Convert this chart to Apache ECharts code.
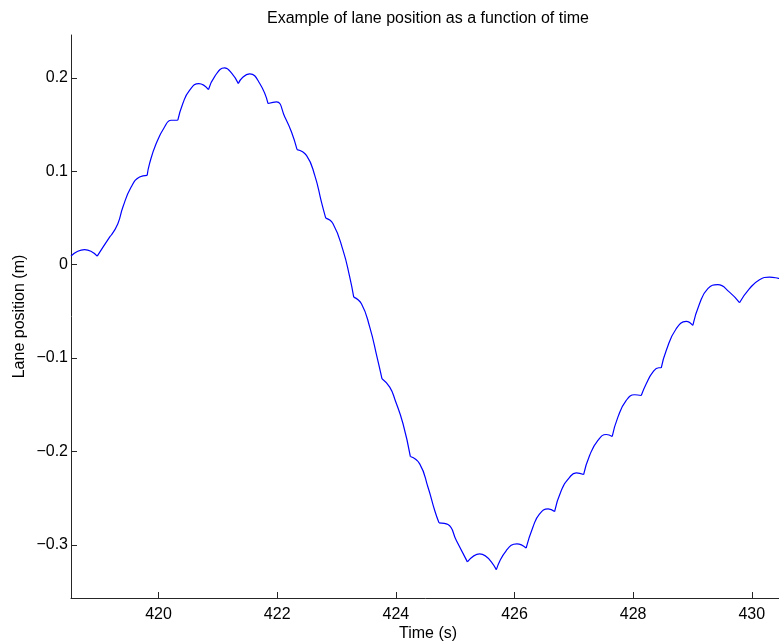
<!DOCTYPE html>
<html>
<head>
<meta charset="utf-8">
<script src="https://cdn.jsdelivr.net/npm/echarts@6/dist/echarts.min.js"></script>
<style>
  html, body { margin: 0; padding: 0; background: #ffffff; }
  #chart { width: 779px; height: 641px; }
</style>
</head>
<body>
<div id="chart"></div>
<script>
// Sampled lane position (m) against time (s)
const timeSec = [
  418.523, 418.753, 418.966, 419.175, 419.201, 419.314, 419.399, 419.538, 419.680, 419.808,
  419.848, 419.960, 420.101, 420.212, 420.325, 420.409, 420.522, 420.679, 420.842, 420.948,
  421.112, 421.235, 421.344, 421.420, 421.538, 421.706, 421.846, 421.988, 422.128, 422.241,
  422.335, 422.493, 422.633, 422.746, 422.818, 422.941, 423.110, 423.223, 423.290, 423.420,
  423.560, 423.683, 423.767, 423.897, 423.990, 424.121, 424.245, 424.402, 424.542, 424.655,
  424.727, 424.879, 425.020, 425.206, 425.413, 425.694, 425.862, 426.041, 426.196, 426.310,
  426.423, 426.567, 426.676, 426.789, 426.929, 427.042, 427.165, 427.266, 427.406, 427.547,
  427.648, 427.743, 427.884, 428.024, 428.137, 428.221, 428.332, 428.433, 428.474, 428.558,
  428.726, 428.895, 429.006, 429.119, 429.259, 429.427, 429.624, 429.793, 429.961, 430.130,
  430.298, 430.450, 430.560
];
const lanePos = [
  0.0092, 0.0161, 0.0092, 0.0296, 0.0314, 0.0439, 0.0617, 0.0832, 0.0939, 0.0957,
  0.1083, 0.1297, 0.1475, 0.1547, 0.1547, 0.1726, 0.1868, 0.1940, 0.1876, 0.2018,
  0.2107, 0.2050, 0.1940, 0.2008, 0.2043, 0.1940, 0.1726, 0.1743, 0.1582, 0.1421,
  0.1233, 0.1171, 0.0957, 0.0671, 0.0499, 0.0439, 0.0153, -0.0133, -0.0347, -0.0418,
  -0.0669, -0.0990, -0.1222, -0.1312, -0.1454, -0.1704, -0.2055, -0.2133, -0.2384, -0.2633,
  -0.2765, -0.2783, -0.2955, -0.3183, -0.3098, -0.3266, -0.3062, -0.2990, -0.3035, -0.2812,
  -0.2669, -0.2615, -0.2644, -0.2419, -0.2277, -0.2229, -0.2248, -0.2044, -0.1883, -0.1819,
  -0.1840, -0.1633, -0.1454, -0.1393, -0.1401, -0.1275, -0.1151, -0.1104, -0.1104, -0.0919,
  -0.0686, -0.0608, -0.0651, -0.0418, -0.0257, -0.0214, -0.0294, -0.0407, -0.0257, -0.0161,
  -0.0133, -0.0147, -0.0165
];
// Indices of the sharp corners where one smooth arc ends and the next begins
const cornerIdx = [2, 4, 9, 14, 18, 22, 26, 30, 34, 38, 42, 46, 50, 53, 55, 58, 62, 66, 70, 74, 78, 82, 87];

const xTicks = [420, 422, 424, 426, 428, 430];
const yTicks = [-0.3, -0.2, -0.1, 0, 0.1, 0.2];

// Split into arcs so each one is smoothed without rounding the corners
const bounds = [0].concat(cornerIdx, [timeSec.length - 1]);
const arcs = [];
for (let k = 0; k < bounds.length - 1; k++) {
  const seg = [];
  for (let i = bounds[k]; i <= bounds[k + 1]; i++) seg.push([timeSec[i], lanePos[i]]);
  arcs.push(seg);
}

const font = '"Liberation Sans", Arial, Helvetica, sans-serif';
const axisColor = '#262626';

const chart = echarts.init(document.getElementById('chart'), null, { renderer: 'canvas' });
chart.setOption({
  animation: false,
  backgroundColor: '#ffffff',
  title: {
    text: 'Example of lane position as a function of time',
    left: 423, top: 6, textAlign: 'center',
    textStyle: { fontFamily: font, fontSize: 16, fontWeight: 'normal', color: '#000' }
  },
  grid: { left: 71, top: 35, right: -6, bottom: 43, containLabel: false, outerBoundsMode: 'none' },
  xAxis: {
    type: 'value', min: 418.524, max: 430.56,
    name: 'Time (s)', nameLocation: 'middle', nameGap: 28, nameMoveOverlap: false,
    nameTextStyle: { fontFamily: font, fontSize: 16, color: '#000' },
    axisLine: { show: true, onZero: false, lineStyle: { color: axisColor, width: 1 } },
    axisTick: { show: true, inside: true, length: 6, customValues: xTicks, lineStyle: { color: axisColor } },
    axisLabel: {
      fontFamily: font, fontSize: 16, color: '#000', margin: 9,
      customValues: xTicks, formatter: v => String(v)
    },
    splitLine: { show: false }
  },
  yAxis: {
    type: 'value', min: -0.357, max: 0.246,
    name: 'Lane position (m)', nameLocation: 'middle', nameGap: 43, nameRotate: 90, nameMoveOverlap: false,
    nameTextStyle: { fontFamily: font, fontSize: 16, color: '#000' },
    axisLine: { show: true, onZero: false, lineStyle: { color: axisColor, width: 1 } },
    axisTick: { show: true, inside: true, length: 6, customValues: yTicks, lineStyle: { color: axisColor } },
    axisLabel: {
      fontFamily: font, fontSize: 16, color: '#000', margin: 3,
      customValues: yTicks,
      formatter: v => (v === 0 ? '0' : (v < 0 ? '\u2212' + Math.abs(v).toFixed(1) : v.toFixed(1)))
    },
    splitLine: { show: false }
  },
  series: arcs.map(seg => ({
    type: 'line',
    data: seg,
    smooth: 0.5,
    showSymbol: false,
    symbol: 'none',
    clip: true,
    lineStyle: { color: '#0000ff', width: 1.2 }
  }))
});
</script>
</body>
</html>
